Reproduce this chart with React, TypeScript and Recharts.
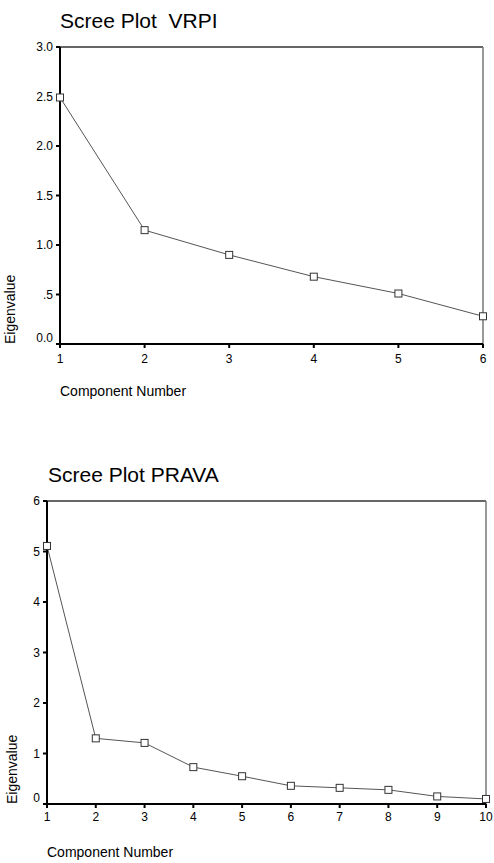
import React from 'react';
import { LineChart, Line, XAxis, YAxis, ReferenceLine } from 'recharts';

const vrpiComponents = [1, 2, 3, 4, 5, 6];
const vrpiEigen = [2.49, 1.15, 0.9, 0.68, 0.51, 0.28];
const vrpiYTicks = [0, 0.5, 1, 1.5, 2, 2.5, 3];
const vrpiYLabels = ['0.0', '.5', '1.0', '1.5', '2.0', '2.5', '3.0'];

const pravaComponents = [1, 2, 3, 4, 5, 6, 7, 8, 9, 10];
const pravaEigen = [5.11, 1.3, 1.21, 0.73, 0.55, 0.36, 0.32, 0.28, 0.15, 0.1];
const pravaYTicks = [0, 1, 2, 3, 4, 5, 6];
const pravaYLabels = ['0', '1', '2', '3', '4', '5', '6'];

const FONT = '"Liberation Sans", Arial, Helvetica, sans-serif';

const SquareDot = (props: any) => {
  const { cx, cy, index } = props;
  if (cx == null || cy == null) return <g key={`e${index}`} />;
  return (
    <rect
      key={`d${index}`}
      x={cx - 3.5}
      y={cy - 3.5}
      width={7}
      height={7}
      fill="#fff"
      stroke="#333"
      strokeWidth={1}
    />
  );
};

type PlotProps = {
  title: string;
  top: number;
  height: number;
  comps: number[];
  values: number[];
  yTicks: number[];
  yLabels: string[];
  marginTop: number;
  marginRight: number;
  marginBottom: number;
  yAxisWidth: number;
  titleLeft: number;
  titleBaseline: number;
  yLabelX: number;
  xLabelOffset: number;
  xTickMargin: number;
};

const ScreePlot = (p: PlotProps) => {
  const data = p.comps.map((c, i) => ({ c, v: p.values[i] }));
  const xMin = p.comps[0];
  const xMax = p.comps[p.comps.length - 1];
  const yMax = p.yTicks[p.yTicks.length - 1];

  const YTick = (props: any) => {
    const { x, y, payload } = props;
    const idx = p.yTicks.indexOf(payload.value);
    const label = idx >= 0 ? p.yLabels[idx] : String(payload.value);
    const shift = payload.value === 0 ? -6 : 0;
    return (
      <text
        x={x}
        y={y + shift}
        textAnchor="end"
        dominantBaseline="central"
        fontSize={12}
        fontFamily={FONT}
        fill="#000"
      >
        {label}
      </text>
    );
  };

  const XTick = (props: any) => {
    const { x, y, payload } = props;
    return (
      <text
        x={x}
        y={y}
        dy="0.71em"
        textAnchor="middle"
        fontSize={12}
        fontFamily={FONT}
        fill="#000"
      >
        {payload.value}
      </text>
    );
  };

  return (
    <div style={{ position: 'absolute', left: 0, top: p.top, width: 494, height: p.height }}>
      <div
        style={{
          position: 'absolute',
          left: p.titleLeft,
          top: p.titleBaseline - p.top - 17.8,
          fontSize: 21,
          lineHeight: '21px',
          fontFamily: FONT,
          whiteSpace: 'pre',
          color: '#000',
        }}
      >
        {p.title}
      </div>
      <LineChart
        width={494}
        height={p.height}
        data={data}
        margin={{ top: p.marginTop, right: p.marginRight, bottom: p.marginBottom, left: 0 }}
      >
        <XAxis
          dataKey="c"
          type="number"
          domain={[xMin, xMax]}
          ticks={p.comps}
          interval={0}
          height={40}
          tickSize={4}
          tickMargin={p.xTickMargin}
          axisLine={{ stroke: '#000', strokeWidth: 2 }}
          tickLine={{ stroke: '#000', strokeWidth: 2 }}
          tick={<XTick />}
          label={{
            content: (lp: any) => {
              const vb = lp.viewBox || {};
              return (
                <text
                  x={vb.x}
                  y={vb.y + p.xLabelOffset}
                  textAnchor="start"
                  fontSize={14}
                  fontFamily={FONT}
                  fill="#000"
                >
                  Component Number
                </text>
              );
            },
          }}
        />
        <YAxis
          type="number"
          domain={[0, yMax]}
          ticks={p.yTicks}
          interval={0}
          width={p.yAxisWidth}
          tickSize={4}
          tickMargin={3}
          axisLine={{ stroke: '#000', strokeWidth: 2 }}
          tickLine={{ stroke: '#000', strokeWidth: 2 }}
          tick={<YTick />}
          label={{
            content: (lp: any) => {
              const vb = lp.viewBox || {};
              const bx = p.yLabelX;
              const by = vb.y + vb.height;
              return (
                <text
                  x={bx}
                  y={by}
                  transform={`rotate(-90 ${bx} ${by})`}
                  textAnchor="start"
                  fontSize={14}
                  fontFamily={FONT}
                  fill="#000"
                >
                  Eigenvalue
                </text>
              );
            },
          }}
        />
        <ReferenceLine y={yMax} stroke="#333" strokeWidth={1.5} />
        <ReferenceLine x={xMax} stroke="#777" strokeWidth={1.5} />
        <Line
          type="linear"
          dataKey="v"
          stroke="#555"
          strokeWidth={1}
          dot={SquareDot}
          activeDot={false}
          isAnimationActive={false}
        />
      </LineChart>
    </div>
  );
};

export default function App() {
  return (
    <div
      style={{
        position: 'absolute',
        left: 0,
        top: 0,
        width: 494,
        height: 863,
        background: '#fff',
        fontFamily: FONT,
      }}
    >
      <ScreePlot
        title="Scree Plot  VRPI"
        top={0}
        height={420}
        comps={vrpiComponents}
        values={vrpiEigen}
        yTicks={vrpiYTicks}
        yLabels={vrpiYLabels}
        marginTop={47}
        marginRight={11}
        marginBottom={36}
        yAxisWidth={60}
        titleLeft={60}
        titleBaseline={28}
        yLabelX={15}
        xLabelOffset={52}
        xTickMargin={6}
      />
      <ScreePlot
        title="Scree Plot PRAVA"
        top={450}
        height={413}
        comps={pravaComponents}
        values={pravaEigen}
        yTicks={pravaYTicks}
        yLabels={pravaYLabels}
        marginTop={51}
        marginRight={8}
        marginBottom={19}
        yAxisWidth={47}
        titleLeft={48}
        titleBaseline={482}
        yLabelX={17}
        xLabelOffset={53}
        xTickMargin={4}
      />
    </div>
  );
}
